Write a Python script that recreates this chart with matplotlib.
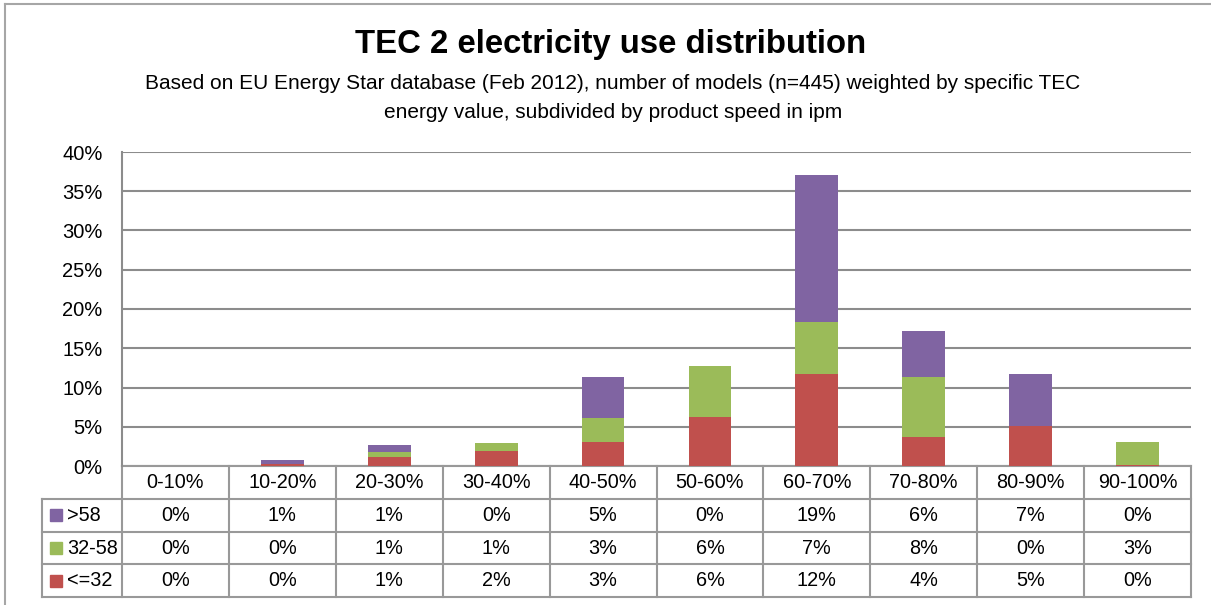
import matplotlib.pyplot as plt
import matplotlib.transforms as mtransforms
from matplotlib.lines import Line2D
import numpy as np

plt.rcParams['font.family'] = ['Liberation Sans', 'DejaVu Sans']

# categories and the three speed bands (fraction of total)
categories = ['0-10%', '10-20%', '20-30%', '30-40%', '40-50%',
              '50-60%', '60-70%', '70-80%', '80-90%', '90-100%']
le32 = [0.0, 0.0025, 0.012, 0.0196, 0.031, 0.063, 0.1166, 0.0366, 0.0506, 0.0017]
mid = [0.0, 0.0002, 0.0055, 0.0093, 0.030, 0.0647, 0.0668, 0.0762, 0.0, 0.0285]
gt58 = [0.0, 0.0055, 0.0095, 0.0, 0.052, 0.0, 0.1868, 0.0587, 0.0664, 0.0]

series = [('>58', gt58, '#8064A2'),
          ('32-58', mid, '#9BBB59'),
          ('<=32', le32, '#C0504D')]

W, H = 1211, 605
fig = plt.figure(figsize=(W / 100, H / 100), dpi=100)

# plot area in pixels
left, right, top, base = 122, 1191, 152, 466
ax = fig.add_axes([left / W, 1 - base / H, (right - left) / W, (base - top) / H])

x = np.arange(len(categories))
bottom = np.zeros(len(categories))
for name, vals, col in series[::-1]:
    ax.bar(x, vals, 0.4, bottom=bottom, color=col, zorder=3)
    bottom += np.array(vals)

ax.set_xlim(-0.5, len(categories) - 0.5)
ax.set_ylim(0, 0.40)
ax.set_yticks(np.arange(0, 0.41, 0.05))
ax.set_yticklabels([f'{int(round(v * 100))}%' for v in np.arange(0, 0.41, 0.05)])
ax.tick_params(axis='y', length=0, pad=14, labelsize=14.5)
ax.set_xticks([])
ax.grid(axis='y', color='#8c8c8c', lw=1.5, zorder=0)
for s in ['top', 'right', 'bottom']:
    ax.spines[s].set_visible(False)
ax.spines['left'].set_color('#8c8c8c')
ax.spines['left'].set_linewidth(1.5)

# data table below the plot
tr = mtransforms.blended_transform_factory(ax.transData, ax.transAxes)
ph = base - top
rh = 32.8 / ph
lc = '#999999'
x_leg = -0.5 - (left - 41.7) / ((right - left) / len(categories))
xr = len(categories) - 0.5

def hline(y, x0, x1):
    ax.add_line(Line2D([x0, x1], [y, y], transform=tr, color=lc, lw=1.5, clip_on=False))

def vline(xx, y0, y1):
    ax.add_line(Line2D([xx, xx], [y0, y1], transform=tr, color=lc, lw=1.5, clip_on=False))

hline(0, -0.5, xr)
for r in range(1, 5):
    hline(-r * rh, x_leg, xr)
for i in range(len(categories) + 1):
    vline(i - 0.5, 0, -4 * rh)
vline(x_leg, -rh, -4 * rh)

for i, c in enumerate(categories):
    ax.text(i, -0.5 * rh, c, transform=tr, ha='center', va='center', fontsize=14.3)

for r, (name, vals, col) in enumerate(series):
    yc = -(r + 1.5) * rh
    for i, v in enumerate(vals):
        ax.text(i, yc, f'{v * 100:.0f}%', transform=tr, ha='center', va='center', fontsize=14.3)
    ax.plot([x_leg + 0.13], [yc], marker='s', ms=9, color=col, mec=col,
            transform=tr, clip_on=False)
    ax.text(x_leg + 0.235, yc, name, transform=tr, ha='left', va='center', fontsize=14.3)

# titles
fig.text(611 / W, 1 - 45 / H, 'TEC 2 electricity use distribution', ha='center', va='center',
         fontsize=23.7, fontweight='bold')
fig.text(613 / W, 1 - 98 / H,
         'Based on EU Energy Star database (Feb 2012), number of models (n=445) weighted by specific TEC\n'
         'energy value, subdivided by product speed in ipm',
         ha='center', va='center', fontsize=15, linespacing=1.62)

# outer chart frame (cropped at right and bottom)
fig.add_artist(Line2D([5 / W, 5 / W], [0, 1 - 4 / H], color='#a6a6a6', lw=1.5))
fig.add_artist(Line2D([5 / W, 1], [1 - 4 / H, 1 - 4 / H], color='#a6a6a6', lw=1.5))

fig.savefig('out.png', dpi=100)
